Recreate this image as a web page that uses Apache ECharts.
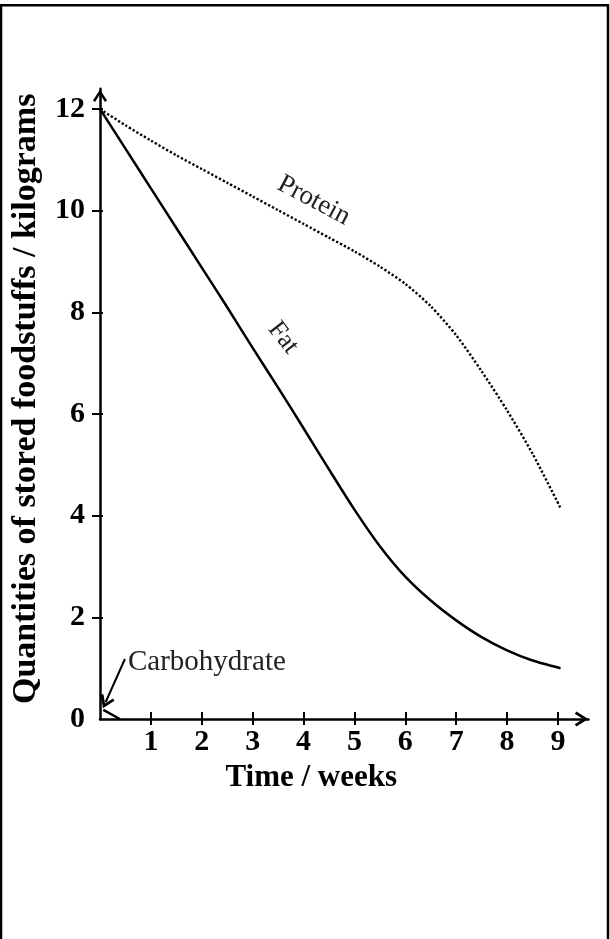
<!DOCTYPE html>
<html>
<head>
<meta charset="utf-8">
<script src="https://cdn.jsdelivr.net/npm/echarts@6/dist/echarts.min.js"></script>
<style>
html,body{margin:0;padding:0;background:#fff;}
#chart{width:610px;height:939px;}
</style>
</head>
<body>
<div id="chart"></div>
<script>
// ---- data ----
const fatWeeks = [0, 0.5, 1, 1.5, 2, 2.5, 3, 3.5, 4, 4.5, 5, 5.5, 6, 6.5, 7, 7.5, 8, 8.5, 9.05];
const fatKg    = [12, 11.22, 10.44, 9.66, 8.88, 8.1, 7.3, 6.52, 5.72, 4.91, 4.12, 3.4, 2.8, 2.33, 1.94, 1.61, 1.35, 1.15, 1.0];
const proteinWeeks = [0, 0.5, 1, 1.5, 2, 2.5, 3, 3.5, 4, 4.5, 5, 5.5, 6, 6.5, 7, 7.5, 8, 8.5, 9.05];
const proteinKg    = [12, 11.68, 11.38, 11.09, 10.82, 10.55, 10.28, 10.01, 9.74, 9.47, 9.2, 8.9, 8.56, 8.12, 7.55, 6.84, 6.07, 5.22, 4.15];
const carbWeeks = [0.065, 0.39];
const carbKg    = [0.18, 0];
const xTicks = [1, 2, 3, 4, 5, 6, 7, 8, 9];
const yTickMarks = [2, 4, 6, 8, 10, 12];
const yTickLabels = [0, 2, 4, 6, 8, 10, 12];
const xName = 'Time / weeks';
const yName = 'Quantities of stored foodstuffs / kilograms';
const curveNames = ['Fat', 'Protein', 'Carbohydrate'];

const pairs = (xs, ys) => xs.map((x, i) => [x, ys[i]]);
const serif = '"Liberation Serif", "Times New Roman", serif';
const chevron = 'path://M7,0 L14,11 L12,12.6 L7,4.9 L2,12.6 L0,11 Z';

const X_MAX = 9.6, Y_MAX = 12.4;
const baseX = {
  type: 'value', min: 0, max: X_MAX, interval: 1,
  splitLine: {show: false}
};
const baseY = {
  type: 'value', min: 0, max: Y_MAX, interval: 2,
  splitLine: {show: false}
};

const option = {
  animation: false,
  backgroundColor: '#fff',
  graphic: [{
    type: 'rect', silent: true,
    shape: {x: 1, y: 5.2, width: 607, height: 1000},
    style: {fill: 'none', stroke: '#000', lineWidth: 2.5}
  }],
  grid: {left: 100, top: 88.7, width: 488.5, height: 630.3, containLabel: false},
  xAxis: [
    Object.assign({}, baseX, {
      position: 'bottom', offset: 0,
      name: xName, nameLocation: 'middle', nameGap: 43,
      nameTextStyle: {fontFamily: serif, fontWeight: 'bold', fontSize: 31, color: '#000', padding: [0, 66, 0, 0]},
      axisLine: {show: true, onZero: false, lineStyle: {color: '#000', width: 2.5},
        symbol: ['none', chevron], symbolSize: [15, 14], symbolOffset: [0, -7]},
      axisTick: {show: true, inside: false, length: 6, lineStyle: {color: '#000', width: 2}, customValues: xTicks},
      axisLabel: {show: true, margin: 8, fontFamily: serif, fontWeight: 'bold', fontSize: 30, color: '#000', customValues: xTicks}
    }),
    Object.assign({}, baseX, {
      position: 'bottom', offset: 0,
      axisLine: {show: false, onZero: false},
      axisTick: {show: true, inside: true, length: 7, lineStyle: {color: '#000', width: 2}, customValues: xTicks},
      axisLabel: {show: false}
    })
  ],
  yAxis: [
    Object.assign({}, baseY, {
      position: 'left', offset: 0,
      name: yName, nameLocation: 'middle', nameGap: 57,
      nameTextStyle: {fontFamily: serif, fontWeight: 'bold', fontSize: 34, color: '#000', padding: [0, 0, 0, 10]},
      axisLine: {show: true, onZero: false, lineStyle: {color: '#000', width: 2.5},
        symbol: ['none', chevron], symbolSize: [14, 14], symbolOffset: [0, -7]},
      axisTick: {show: true, inside: false, length: 8, lineStyle: {color: '#000', width: 2}, customValues: yTickMarks},
      axisLabel: {show: true, margin: 15, fontFamily: serif, fontWeight: 'bold', fontSize: 30, color: '#000', customValues: yTickLabels}
    }),
    Object.assign({}, baseY, {
      position: 'left', offset: 0,
      axisLine: {show: false, onZero: false},
      axisTick: {show: true, inside: true, length: 3, lineStyle: {color: '#000', width: 2}, customValues: yTickMarks},
      axisLabel: {show: false}
    })
  ],
  series: [
    {
      name: curveNames[0], type: 'line', xAxisIndex: 0, yAxisIndex: 0,
      data: pairs(fatWeeks, fatKg), smooth: 0.25, showSymbol: false, symbol: 'none',
      lineStyle: {color: '#000', width: 2.5, type: 'solid'},
      markPoint: {
        symbol: 'circle', symbolSize: 0, silent: true,
        data: [{coord: [3.6, 7.5], value: 'Fat'}],
        label: {show: true, position: 'inside', formatter: curveNames[0], rotate: -52,
          fontFamily: serif, fontSize: 26, color: '#222'}
      }
    },
    {
      name: curveNames[1], type: 'line', xAxisIndex: 0, yAxisIndex: 0,
      data: pairs(proteinWeeks, proteinKg), smooth: 0.25, showSymbol: false, symbol: 'none',
      lineStyle: {color: '#000', width: 2.4, type: [2.3, 2.0]},
      markPoint: {
        symbol: 'circle', symbolSize: 0, silent: true,
        data: [{coord: [4.2, 10.2], value: 'Protein'}],
        label: {show: true, position: 'inside', formatter: curveNames[1], rotate: -28,
          fontFamily: serif, fontSize: 27, color: '#222'}
      }
    },
    {
      name: curveNames[2], type: 'line', xAxisIndex: 0, yAxisIndex: 0,
      data: pairs(carbWeeks, carbKg), showSymbol: false, symbol: 'none',
      lineStyle: {color: '#000', width: 2.4},
      markPoint: {
        symbol: 'circle', symbolSize: 0, silent: true,
        data: [{coord: [0.55, 1.12], value: 'Carbohydrate'}],
        label: {show: true, position: 'right', distance: 0, formatter: curveNames[2],
          fontFamily: serif, fontSize: 29, color: '#222'}
      },
      markLine: {
        silent: true, symbol: ['none', chevron], symbolSize: [15, 13],
        lineStyle: {color: '#000', width: 2, type: 'solid', curveness: 0.06},
        label: {show: false},
        data: [[{coord: [0.49, 1.18]}, {coord: [0.11, 0.33]}]]
      }
    }
  ]
};

const chart = echarts.init(document.getElementById('chart'), null, {renderer: 'canvas'});
chart.setOption(option);
</script>
</body>
</html>
